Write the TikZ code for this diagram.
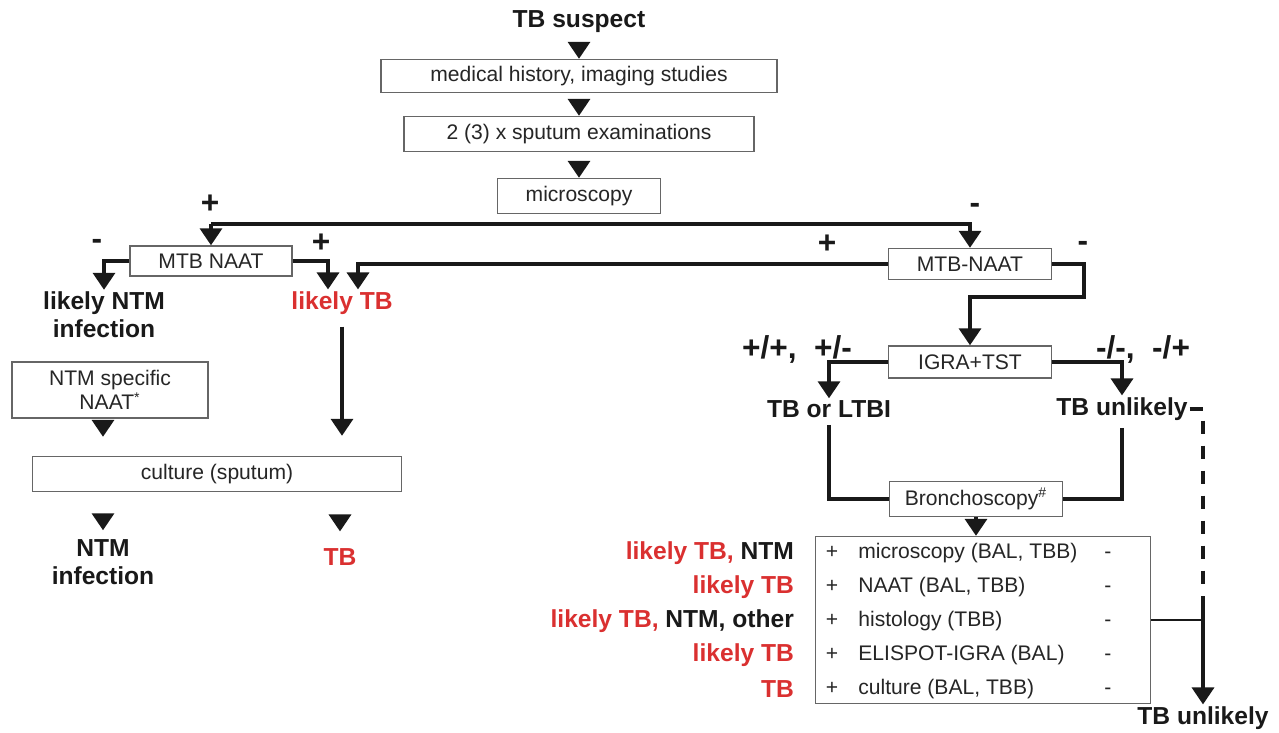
\documentclass[tikz,border=0pt]{standalone}
\usepackage{fontspec}
\setmainfont{Liberation Sans}
\usetikzlibrary{arrows.meta,positioning,calc}
\definecolor{tbred}{RGB}{218,48,48}
\definecolor{ink}{RGB}{25,25,25}

\begin{document}
\begin{tikzpicture}[x=0.02cm,y=-0.02cm,>={Triangle[width=0.44cm,length=0.34cm]},
  box/.style={draw=black!60,line width=0.8pt,fill=white,text=black!85,font=\fontsize{12}{14}\selectfont,inner sep=0pt,align=center},
  lbl/.style={font=\fontsize{14}{16}\selectfont\bfseries,text=ink,align=center,inner sep=1pt},
  sgn/.style={font=\fontsize{18}{20}\selectfont\bfseries,text=ink,inner sep=0pt},
  conn/.style={line width=2pt,draw=ink},
  tip/.style={conn,->,shorten <=0.16cm},
  row/.style={font=\fontsize{12}{14}\selectfont,text=black!85,inner sep=0pt,text height=9pt,text depth=3pt}]
  \useasboundingbox (0,0) rectangle (1279,733);

  \node[lbl] (suspect) at (579,22) {TB suspect};
  \node[box,minimum width=7.92cm,minimum height=0.66cm] (history) at (579,76) {medical history, imaging studies};
  \node[box,minimum width=7cm,minimum height=0.7cm] (sputum) at (579,134) {2 (3) x sputum examinations};
  \node[box,minimum width=3.26cm,minimum height=0.7cm] (micro) at (579,196) {microscopy};
  \draw[tip] (suspect) -- (history);
  \draw[tip] (history) -- (sputum);
  \draw[tip,shorten <=0.2cm] (sputum) -- (micro);

  % microscopy + / -
  \coordinate (posL) at (211,224);
  \coordinate (negR) at (970,224);
  \node[sgn] (plusA) at (210,204) {+};
  \node[sgn] (minusA) at (975,208) {-};
  \node[box,minimum width=3.24cm,minimum height=0.6cm] (naatL) at (211,261) {MTB NAAT};
  \node[box,minimum width=3.26cm,minimum height=0.62cm] (naatR) at (970,264) {MTB-NAAT};
  \draw[conn,->] (posL) -- (naatL.north);
  \draw[conn,->] (posL) -- (negR) -- (naatR.north);

  \node[sgn] (minusB) at (97,244) {-};
  \node[sgn] (plusB) at (321,243) {+};
  \node[sgn] (plusC) at (827,244) {+};
  \node[sgn] (minusC) at (1083,246) {-};
  \node[lbl] (ntmlikely) at (104,315) {likely NTM\\infection};
  \node[lbl,text=tbred] (tblikely) at (342,303) {likely TB};
  \draw[conn,->] (naatL.west) -| (ntmlikely.north);
  \draw[conn,->] (naatL.east) -| ([xshift=-0.28cm]tblikely.north);
  \draw[conn,->] (naatR.west) -| ([xshift=0.32cm]tblikely.north);

  % left branch
  \node[box,minimum width=3.92cm,minimum height=1.12cm] (ntmnaat) at (110,390) {NTM specific\\NAAT\textsuperscript{*}};
  \node[box,minimum width=7.38cm,minimum height=0.7cm] (culture) at (217,474) {culture (sputum)};
  \node[lbl] (ntminf) at (103,562) {NTM\\infection};
  \node[lbl,text=tbred] (tbfinal) at (340,557) {TB};
  \draw[conn,->,shorten <=0.08cm,shorten >=0.38cm] (ntmnaat.south -| ntminf) -- (culture.north -| ntminf);
  \draw[conn,->,shorten <=0.2cm,shorten >=0.4cm] (tblikely.south) -- (culture.north -| tblikely);
  \draw[conn,->,shorten <=0.43cm,shorten >=0.14cm] (culture.south -| ntminf) -- (ntminf.north);
  \draw[conn,->,shorten <=0.47cm,shorten >=0.3cm] (culture.south -| tbfinal) -- (tbfinal.north);

  % right branch
  \node[box,minimum width=3.26cm,minimum height=0.64cm] (igra) at (970,362) {IGRA+TST};
  \draw[conn,->] (naatR.east) -- ++(32,0) -- ++(0,33) -| (igra.north);
  \node[sgn] (posgrp) at (797,349) {+/+,~~+/-};
  \node[sgn] (neggrp) at (1143,349) {-/-,~~-/+};
  \node[lbl] (tbltbi) at (829,409) {TB or LTBI};
  \node[lbl] (unlikelyA) at (1122,409) {TB unlikely};
  \draw[conn,->] (igra.west) -| (tbltbi.north);
  \draw[conn,->] (igra.east) -| (unlikelyA.north);

  \node[box,minimum width=3.46cm,minimum height=0.7cm] (bronch) at (976,499) {Bronchoscopy\textsuperscript{\#}};
  \draw[conn,shorten <=3pt] (tbltbi.south) |- (bronch.west);
  \draw[conn,shorten <=3pt] (unlikelyA.south) |- (bronch.east);

  \node[box,minimum width=6.7cm,minimum height=3.34cm] (tests) at (983,620) {};
  \draw[conn,->] (bronch.south) -- (bronch.south |- tests.north);
  \foreach \y/\test/\res in {553/{microscopy (BAL, TBB)}/{\textcolor{tbred}{likely TB,} NTM},
      587/{NAAT (BAL, TBB)}/{\textcolor{tbred}{likely TB}},
      621/{histology (TBB)}/{\textcolor{tbred}{likely TB,} NTM, other},
      655/{ELISPOT-IGRA (BAL)}/{\textcolor{tbred}{likely TB}},
      689/{culture (BAL, TBB)}/{\textcolor{tbred}{TB}}}
  {
    \node[row] (plus\y) at (832,\y) {+};
    \node[row,anchor=west] (test\y) at (858,\y) {\test};
    \node[row] (minus\y) at (1108,\y) {-};
    \node[lbl,anchor=east] (res\y) at (796,\y) {\res};
  }

  \coordinate (join) at (1203,620);
  \coordinate (dashend) at (1203,588);
  \coordinate (solidtop) at (1203,596);
  \node[lbl] (unlikelyB) at (1203,718) {TB unlikely};
  \draw[conn,dash pattern=on 0.26cm off 0.24cm] (unlikelyA.east) -| (dashend);
  \draw[conn,->] (solidtop) -- (unlikelyB.north);
  \draw[conn,line width=1.5pt] (tests.east) -- (join);
\end{tikzpicture}
\end{document}
